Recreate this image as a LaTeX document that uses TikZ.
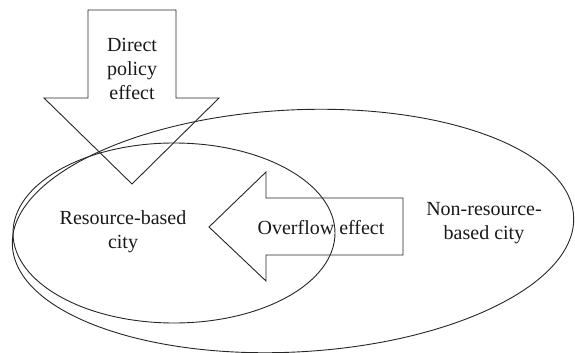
\documentclass[tikz,border=0pt]{standalone}
\usepackage{fontspec}
\setmainfont{Liberation Serif}
\begin{document}
\begin{tikzpicture}[x=1pt,y=-1pt,
  outline/.style={draw=black!85, line width=0.9pt, line join=miter},
  label/.style={font=\fontsize{20}{24}\selectfont, text=black!90, align=center, inner sep=0pt}]
\useasboundingbox (0,0) rectangle (575,353);
% ellipses
\draw[outline] (174,233) ellipse [x radius=161, y radius=90];
\draw[outline, rotate around={3:(293,231)}] (293,231) ellipse [x radius=281, y radius=121];
% down arrow: direct policy effect
\coordinate (d1) at (88,10);
\coordinate (d2) at (176,10);
\coordinate (d3) at (176,98);
\coordinate (d4) at (219,98);
\coordinate (dtip) at (132,184);
\coordinate (d5) at (44,98);
\coordinate (d6) at (88,98);
\draw[outline] (d1) -- (d2) -- (d3) -- (d4) -- (dtip) -- (d5) -- (d6) -- cycle;
% left arrow: overflow effect
\coordinate (o1) at (403,198);
\coordinate (o2) at (403,255);
\coordinate (o3) at (266,255);
\coordinate (o4) at (266,281);
\coordinate (otip) at (209,227);
\coordinate (o5) at (266,172);
\coordinate (o6) at (266,198);
\draw[outline] (o1) -- (o2) -- (o3) -- (o4) -- (otip) -- (o5) -- (o6) -- cycle;
% labels
\node[label] (direct) at (132,69) {Direct\\policy\\effect};
\node[label] (resource) at (123,232) {Resource-based\\city};
\node[label] (overflow) at (321,227.5) {Overflow effect};
\node[label] (nonresource) at (484,223) {Non-resource-\\based city};
\end{tikzpicture}
\end{document}
